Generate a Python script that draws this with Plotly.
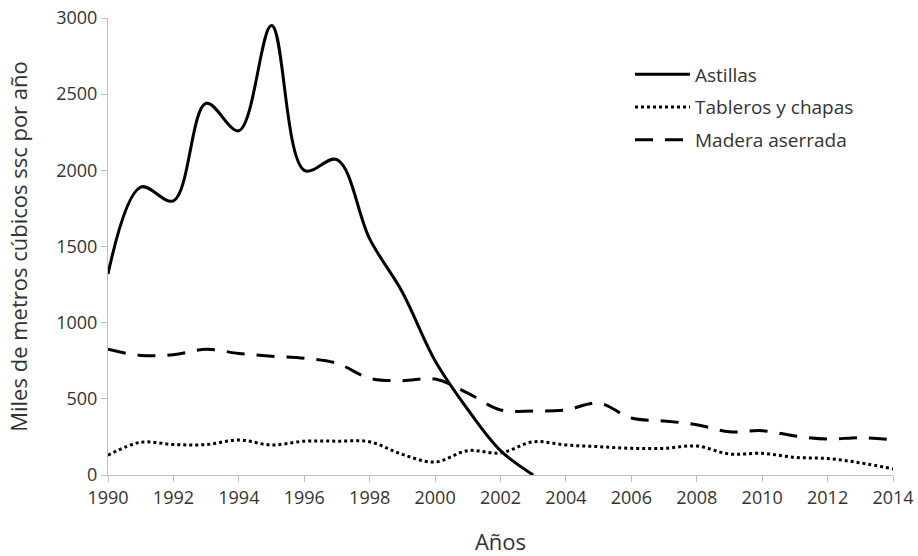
import plotly.graph_objects as go

years = list(range(1990, 2015))
astillas_years = list(range(1990, 2004))
astillas = [1320, 1890, 1800, 2440, 2260, 2950, 2000, 2070, 1550, 1200, 750, 430, 160, 0]
tableros = [130, 215, 200, 200, 230, 197, 222, 222, 218, 135, 85, 160, 145, 218, 197,
            186, 175, 175, 190, 138, 142, 116, 108, 80, 40]
madera = [825, 785, 790, 825, 798, 780, 766, 733, 635, 619, 630, 537, 427, 420, 427,
          472, 374, 355, 330, 284, 291, 256, 236, 245, 232]

series_names = ["Astillas", "Tableros y chapas", "Madera aserrada"]
x_ticks = list(range(1990, 2015, 2))
y_ticks = [0, 500, 1000, 1500, 2000, 2500, 3000]

font_family = "Open Sans, Liberation Sans, sans-serif"
text_color = "#333333"

fig = go.Figure()
fig.add_trace(go.Scatter(x=astillas_years, y=astillas, name=series_names[0], mode="lines",
                         legendgroup="a",
                         line=dict(color="black", width=3, shape="spline", smoothing=1.0)))
fig.add_trace(go.Scatter(x=years, y=tableros, name=series_names[1], mode="lines",
                         legendgroup="b",
                         line=dict(color="black", width=3, dash="dot", shape="spline", smoothing=1.0)))
fig.add_trace(go.Scatter(x=years, y=madera, name=series_names[2], mode="lines",
                         legendgroup="c",
                         line=dict(color="black", width=3, dash="18px,12px", shape="spline", smoothing=1.0)))

fig.update_layout(
    width=918, height=556,
    margin=dict(l=108, r=25, t=18, b=81),
    plot_bgcolor="white", paper_bgcolor="white",
    font=dict(family=font_family, size=18, color=text_color),
    showlegend=True,
    legend=dict(x=0.665, y=0.918, xanchor="left", yanchor="top",
                bgcolor="rgba(0,0,0,0)", font=dict(size=19, color=text_color),
                tracegroupgap=5, itemwidth=55),
)
fig.update_xaxes(range=[1990, 2014], tickvals=x_ticks, ticktext=[str(v) for v in x_ticks],
                 showgrid=False, zeroline=False, showline=True, linecolor="#bfbfbf", linewidth=1,
                 ticks="outside", ticklen=6, tickcolor="#bfbfbf", automargin=False,
                 ticklabeloverflow="allow",
                 title=dict(text="Años", standoff=32))
fig.update_yaxes(range=[0, 3000], tickvals=y_ticks, ticktext=[str(v) for v in y_ticks],
                 showgrid=False, zeroline=False, showline=True, linecolor="#bfbfbf", linewidth=1,
                 ticks="outside", ticklen=6, tickcolor="#bfbfbf", automargin=False,
                 ticklabeloverflow="allow",
                 title=dict(text="Miles de metros cúbicos ssc por año", standoff=22))

# remove the default 8px page margin so the figure fills the window exactly
fig.write_html("out.html", config={"displayModeBar": False},
               post_script="document.body.style.margin='0';")
